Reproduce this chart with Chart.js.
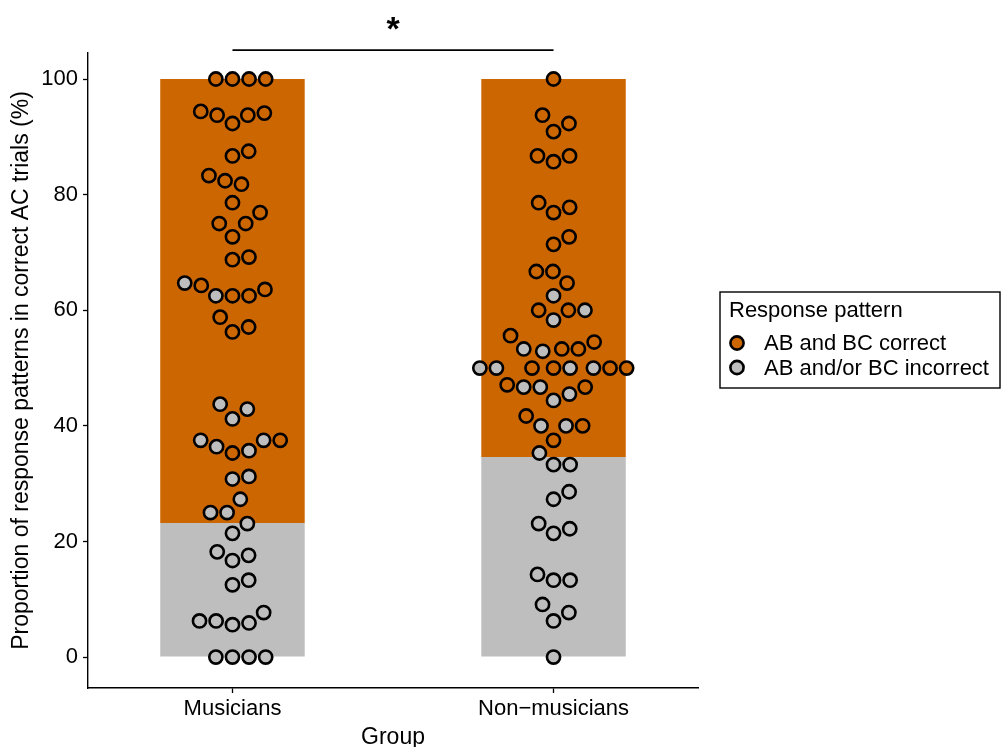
<!DOCTYPE html>
<html>
<head>
<meta charset="utf-8">
<script src="https://cdn.jsdelivr.net/npm/chart.js@4/dist/chart.umd.min.js"></script>
<style>
  html, body { margin: 0; padding: 0; background: #ffffff; }
  canvas { display: block; }
</style>
</head>
<body>
<canvas id="chart" width="1002" height="747"></canvas>
<script>
// ---- data ----------------------------------------------------------------
const groups = ['Musicians', 'Non\u2212musicians'];

// Mean share (%) of "AB and/or BC incorrect" patterns; the rest of each bar up to 100 is "AB and BC correct"
const incorrectShare = [23.2, 34.6];
const barTop = 100;

// Per-participant percentages (index i of a "Correct" list and of the matching "Incorrect" list is one participant)
const musiciansCorrect = [
  100, 100, 100, 100, 94.1, 93.75, 92.3, 93.75, 94.4, 86.7, 87.5, 83.3, 82.4, 81.8, 78.6,
  76.9, 75, 75, 72.7, 68.75, 69.2, 64.3, 62.5, 62.5, 63.6, 58.8, 56.25, 57.1, 35.3, 37.5
];
const musiciansIncorrect = [
  0, 0, 0, 0, 5.9, 6.25, 7.7, 6.25, 5.6, 13.3, 12.5, 16.7, 17.6, 18.2, 21.4,
  23.1, 25, 25, 27.3, 31.25, 30.8, 35.7, 37.5, 37.5, 36.4, 41.2, 43.75, 42.9, 64.7, 62.5
];
const nonMusiciansCorrect = [
  100, 93.75, 90.9, 92.3, 86.7, 85.7, 86.7, 78.6, 76.9, 77.8, 71.4, 72.7, 66.7, 66.7, 64.7,
  60, 60, 55.6, 53.3, 53.3, 54.5, 50, 50, 50, 50, 47.1, 46.7, 40, 41.7, 37.5
];
const nonMusiciansIncorrect = [
  0, 6.25, 9.1, 7.7, 13.3, 14.3, 13.3, 21.4, 23.1, 22.2, 28.6, 27.3, 33.3, 33.3, 35.3,
  40, 40, 44.4, 46.7, 46.7, 45.5, 50, 50, 50, 50, 52.9, 53.3, 60, 58.3, 62.5
];

const yTicks = [0, 20, 40, 60, 80, 100];
const seriesNames = ['AB and BC correct', 'AB and/or BC incorrect'];
const legendTitle = 'Response pattern';
const significance = { from: 1, to: 2, level: 105, label: '*' };

// ---- style ---------------------------------------------------------------
const ORANGE = '#CC6600';
const GREY = '#BEBEBE';
const FONT = '"Liberation Sans", Arial, Helvetica, sans-serif';
const DOT_RADIUS = 6.6;
const DOT_BORDER = 2.6;
const SWARM_DX = 16.6;   // horizontal spacing between neighbouring dots (px)
const SWARM_DY = 22;     // vertical reach of the collision ellipse (px)

Chart.defaults.font.family = FONT;
Chart.defaults.color = '#000';

const asPoints = (pos, values) => values.map(v => ({ x: pos, y: v }));

// ---- beeswarm placement: ascending values (ties in participant order),
//      each dot goes to the free slot closest to the group centre ----
const swarmPlugin = {
  id: 'swarm',
  afterDatasetsUpdate(chart) {
    const byGroup = new Map();
    chart.data.datasets.forEach((ds, di) => {
      if (ds.type !== 'scatter') return;
      const meta = chart.getDatasetMeta(di);
      const seen = new Map();
      meta.data.forEach((el, i) => {
        const raw = ds.data[i];
        const rank = seen.get(raw.x) || 0;
        seen.set(raw.x, rank + 1);
        if (!byGroup.has(raw.x)) byGroup.set(raw.x, []);
        byGroup.get(raw.x).push({ el, v: raw.y, rank, di, cx: el.x, cy: el.y, dx: 0 });
      });
    });
    byGroup.forEach(list => {
      list.sort((a, b) => (a.v - b.v) || (a.rank - b.rank) || (a.di - b.di));
      const placed = [];
      list.forEach(p => {
        const near = placed.filter(q => Math.abs(q.cy - p.cy) < SWARM_DY);
        const offs = near.map(q => SWARM_DX * Math.sqrt(Math.max(0, 1 - ((p.cy - q.cy) / SWARM_DY) ** 2)));
        const cand = [0]
          .concat(near.map((q, k) => q.dx + offs[k]))
          .concat(near.map((q, k) => q.dx - offs[k]));
        let best = Infinity;
        cand.forEach(c => {
          const free = near.every(q => ((c - q.dx) / SWARM_DX) ** 2 + ((p.cy - q.cy) / SWARM_DY) ** 2 >= 0.999);
          if (free && Math.abs(c) < Math.abs(best)) best = c;
        });
        p.dx = best;
        placed.push(p);
        p.el.x = p.cx + best;
      });
    });
  }
};

// ---- significance bracket and star ----------------------------------------
const bracketPlugin = {
  id: 'bracket',
  afterDraw(chart) {
    const { ctx, scales: { x, y } } = chart;
    const x1 = x.getPixelForValue(significance.from);
    const x2 = x.getPixelForValue(significance.to);
    const yy = y.getPixelForValue(significance.level);
    ctx.save();
    ctx.strokeStyle = '#000';
    ctx.lineWidth = 1.6;
    ctx.beginPath();
    ctx.moveTo(x1, yy);
    ctx.lineTo(x2, yy);
    ctx.stroke();
    ctx.fillStyle = '#000';
    ctx.font = 'bold 34px ' + FONT;
    ctx.textAlign = 'center';
    ctx.textBaseline = 'alphabetic';
    ctx.fillText(significance.label, (x1 + x2) / 2, yy - 10);
    ctx.restore();
  }
};

// ---- boxed legend on the right ---------------------------------------------
const boxLegendPlugin = {
  id: 'boxLegend',
  afterDraw(chart) {
    const ctx = chart.ctx;
    const box = { left: 720, top: 292, right: 1000, bottom: 388 };
    ctx.save();
    ctx.strokeStyle = '#000';
    ctx.lineWidth = 1.4;
    ctx.strokeRect(box.left, box.top, box.right - box.left, box.bottom - box.top);
    ctx.fillStyle = '#000';
    ctx.font = '22px ' + FONT;
    ctx.textAlign = 'left';
    ctx.textBaseline = 'middle';
    ctx.fillText(legendTitle, 729, 311);
    const entries = chart.data.datasets.filter(ds => ds.type === 'scatter');
    entries.forEach((ds, k) => {
      const cy = 343 + k * 24.5;
      ctx.beginPath();
      ctx.arc(737, cy, DOT_RADIUS, 0, Math.PI * 2);
      ctx.fillStyle = ds.backgroundColor;
      ctx.fill();
      ctx.lineWidth = DOT_BORDER;
      ctx.strokeStyle = '#000';
      ctx.stroke();
      ctx.fillStyle = '#000';
      ctx.fillText(ds.label, 764, cy + 1);
    });
    ctx.restore();
  }
};

const barStyle = {
  borderWidth: 0,
  grouped: false,
  categoryPercentage: 1,
  barPercentage: 0.45,
  order: 2
};
const dotStyle = {
  type: 'scatter',
  borderColor: '#000',
  borderWidth: DOT_BORDER,
  pointRadius: DOT_RADIUS,
  pointHoverRadius: DOT_RADIUS,
  order: 0
};

new Chart(document.getElementById('chart'), {
  type: 'bar',
  data: {
    datasets: [
      Object.assign({}, dotStyle, {
        label: seriesNames[0],
        backgroundColor: ORANGE,
        data: asPoints(1, musiciansCorrect).concat(asPoints(2, nonMusiciansCorrect))
      }),
      Object.assign({}, dotStyle, {
        label: seriesNames[1],
        backgroundColor: GREY,
        data: asPoints(1, musiciansIncorrect).concat(asPoints(2, nonMusiciansIncorrect))
      }),
      Object.assign({}, barStyle, {
        label: seriesNames[0],
        backgroundColor: ORANGE,
        data: incorrectShare.map((s, i) => ({ x: i + 1, y: [s, barTop] }))
      }),
      Object.assign({}, barStyle, {
        label: seriesNames[1],
        backgroundColor: GREY,
        data: incorrectShare.map((s, i) => ({ x: i + 1, y: [0, s] }))
      })
    ]
  },
  options: {
    responsive: false,
    animation: false,
    events: [],
    layout: { padding: { left: 0, right: 304, top: 53, bottom: 0 } },
    plugins: {
      legend: { display: false },
      tooltip: { enabled: false }
    },
    scales: {
      x: {
        type: 'linear',
        offset: false,
        min: 0.55,
        max: 2.45,
        afterBuildTicks: s => { s.ticks = groups.map((g, i) => ({ value: i + 1 })); },
        afterFit: s => { s.height = 59; },
        ticks: {
          callback: v => groups[v - 1],
          font: { size: 22 },
          color: '#000',
          padding: 3,
          maxRotation: 0,
          autoSkip: false
        },
        grid: { offset: false, drawOnChartArea: false, drawTicks: true, tickLength: 5, color: '#000', tickWidth: 1.3 },
        border: { display: true, color: '#000', width: 1.4 },
        title: {
          display: true,
          text: 'Group',
          font: { size: 23, lineHeight: 1 },
          color: '#000',
          padding: { top: 0, bottom: -2 }
        }
      },
      y: {
        type: 'linear',
        min: -5.35,
        max: 104.5,
        afterBuildTicks: s => { s.ticks = yTicks.map(v => ({ value: v })); },
        afterFit: s => { s.width = 88; },
        ticks: {
          font: { size: 22 },
          color: '#000',
          padding: 5
        },
        grid: { drawOnChartArea: false, drawTicks: true, tickLength: 5, color: '#000', tickWidth: 1.3 },
        border: { display: true, color: '#000', width: 1.4 },
        title: {
          display: true,
          text: 'Proportion of response patterns in correct AC trials (%)',
          font: { size: 23, lineHeight: 1.2 },
          color: '#000',
          padding: { top: 8, bottom: 0 }
        }
      }
    }
  },
  plugins: [swarmPlugin, bracketPlugin, boxLegendPlugin]
});
</script>
</body>
</html>
